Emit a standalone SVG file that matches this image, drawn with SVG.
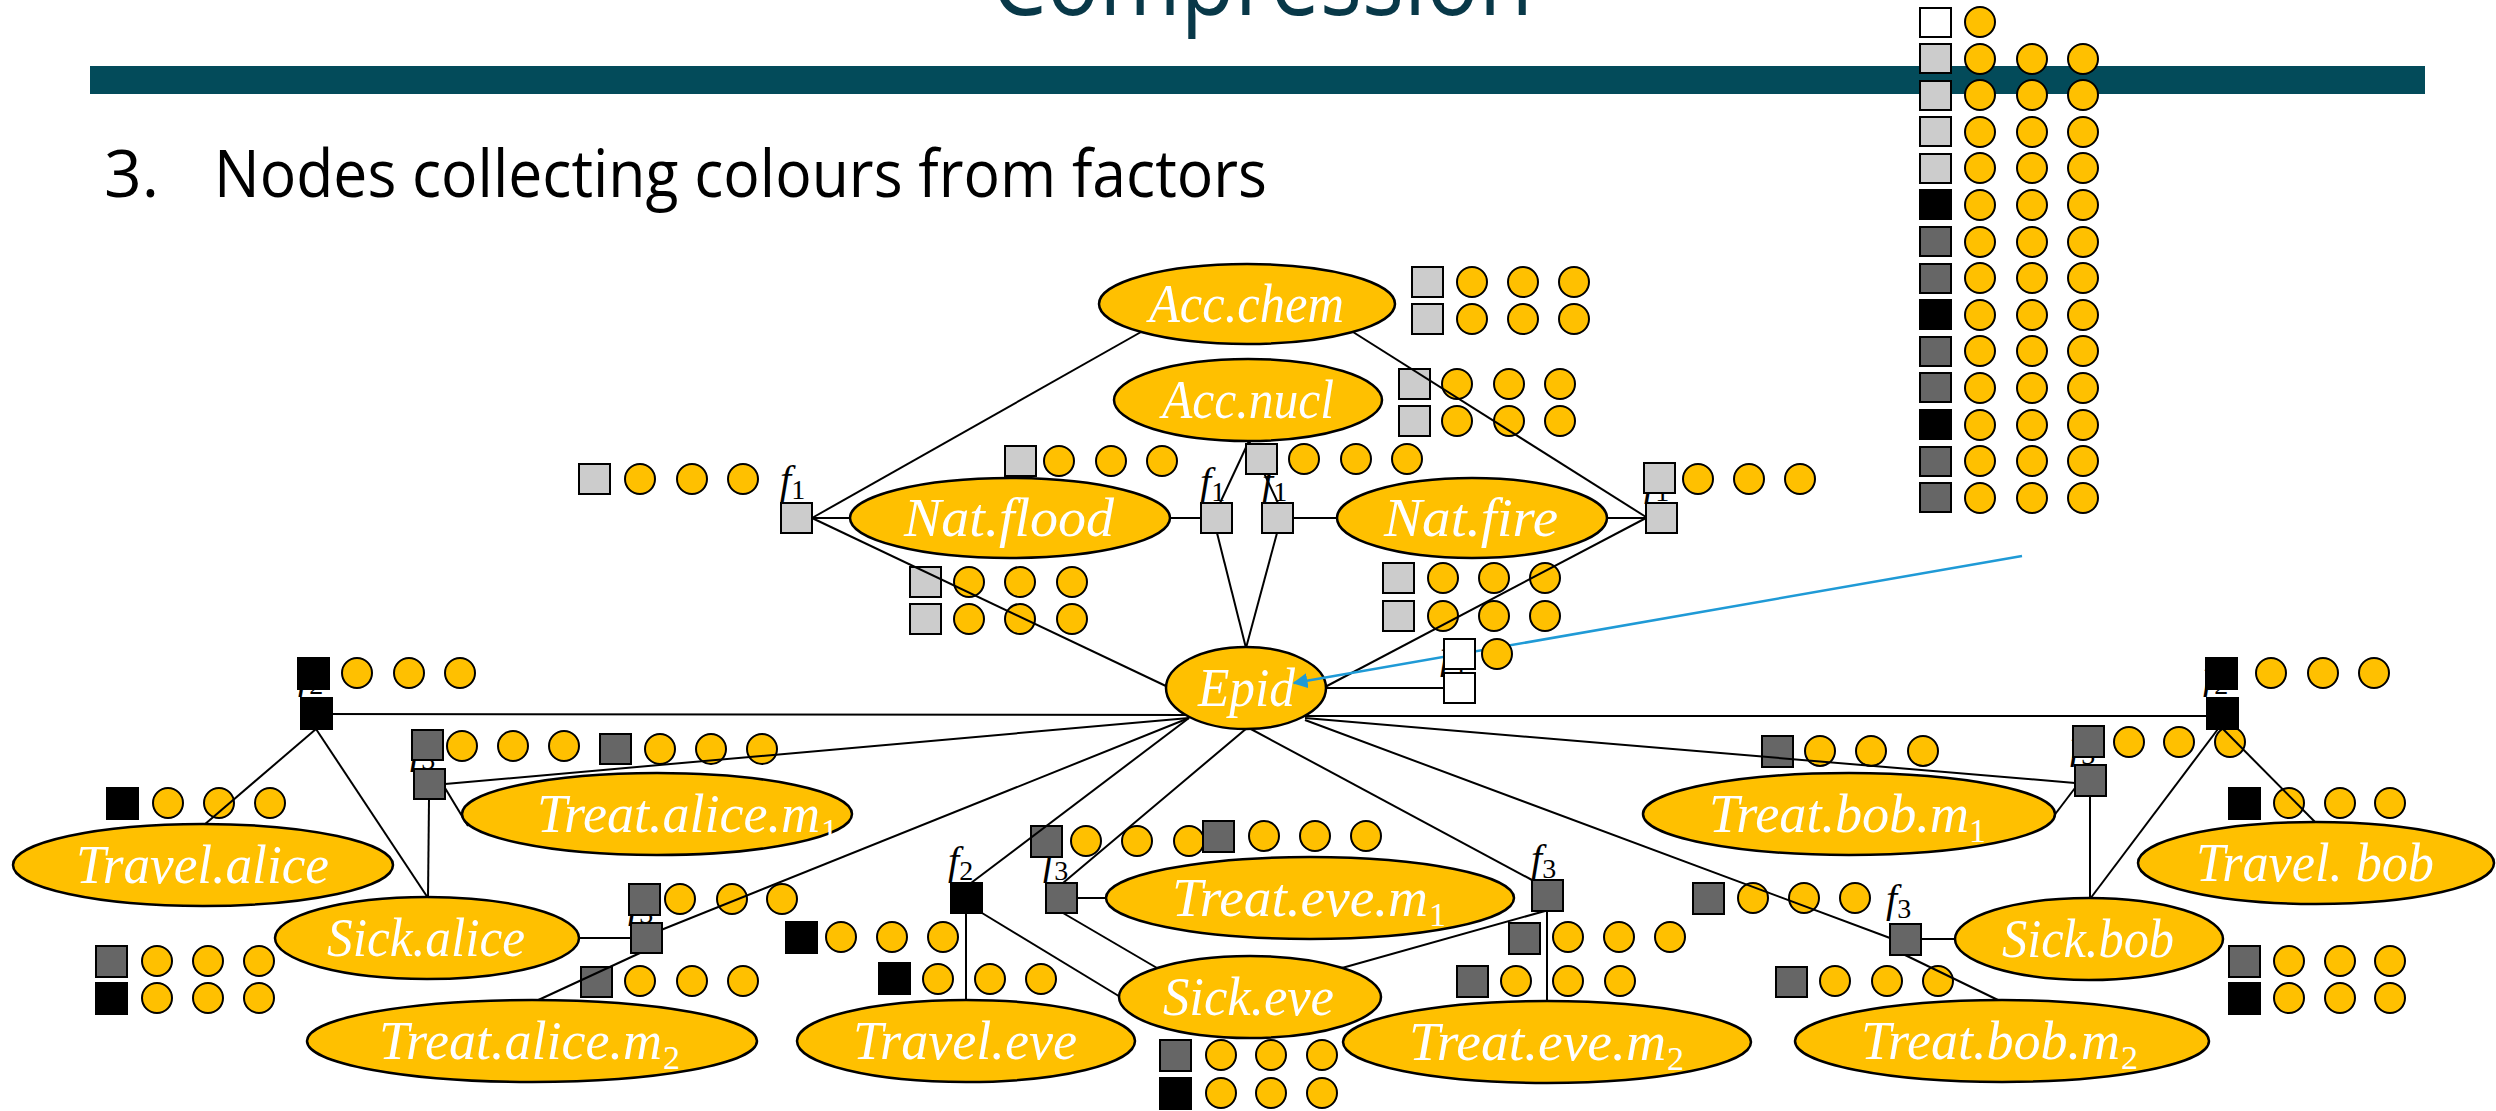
<svg xmlns="http://www.w3.org/2000/svg" width="2496" height="1111" viewBox="0 0 2496 1111">
<style>
.e{fill:#FFC000;stroke:#000;stroke-width:2.5}
.t{font-family:"Liberation Serif","DejaVu Serif",serif;font-style:italic;font-size:54px;fill:#fff}
.sub{font-style:normal;font-size:34px}
.c{fill:#FFC000;stroke:#000;stroke-width:2}
.lg{fill:#CCCCCC;stroke:#000;stroke-width:2}
.dg{fill:#666666;stroke:#000;stroke-width:2}
.bk{fill:#000;stroke:#000;stroke-width:2}
.wh{fill:#fff;stroke:#000;stroke-width:2}
.ln{stroke:#000;stroke-width:2;fill:none}
.fl{font-family:"Liberation Serif","DejaVu Serif",serif;font-style:italic;font-size:40px;fill:#000}
.fs{font-style:normal;font-size:28px}
</style>
<defs>
<marker id="ah" viewBox="0 0 10 10" refX="9" refY="5" markerWidth="6" markerHeight="6" orient="auto">
<path d="M0,0 L10,5 L0,10 z" fill="#1F9AD6"/>
</marker>
</defs>
<rect width="2496" height="1111" fill="#fff"/>
<g id="title">
<text x="991" y="15" font-family="'Open Sans','Noto Sans',sans-serif" font-size="100" fill="#083848" textLength="542" lengthAdjust="spacingAndGlyphs">Compression</text>
<rect x="90" y="66" width="2335" height="28" fill="#034B5A"/>
<text x="104" y="197" font-family="'Open Sans','Noto Sans',sans-serif" font-size="66" fill="#000">3.</text>
<text x="214" y="197" font-family="'Open Sans','Noto Sans',sans-serif" font-size="66" fill="#000" textLength="1053" lengthAdjust="spacingAndGlyphs">Nodes collecting colours from factors</text>
</g>
<g id="factor-labels">
<text class="fl" x="780" y="493">f<tspan class="fs" dy="6">1</tspan></text>
<text class="fl" x="1200" y="495">f<tspan class="fs" dy="6">1</tspan></text>
<text class="fl" x="1262" y="495">f<tspan class="fs" dy="6">1</tspan></text>
<text class="fl" x="1644" y="495">f<tspan class="fs" dy="6">1</tspan></text>
<text class="fl" x="1440" y="668">f<tspan class="fs" dy="6">4</tspan></text>
<text class="fl" x="298" y="688">f<tspan class="fs" dy="6">2</tspan></text>
<text class="fl" x="2203" y="688">f<tspan class="fs" dy="6">2</tspan></text>
<text class="fl" x="410" y="763">f<tspan class="fs" dy="6">3</tspan></text>
<text class="fl" x="628" y="917">f<tspan class="fs" dy="6">3</tspan></text>
<text class="fl" x="948" y="874">f<tspan class="fs" dy="6">2</tspan></text>
<text class="fl" x="1043" y="874">f<tspan class="fs" dy="6">3</tspan></text>
<text class="fl" x="1531" y="872">f<tspan class="fs" dy="6">3</tspan></text>
<text class="fl" x="2070" y="758">f<tspan class="fs" dy="6">3</tspan></text>
<text class="fl" x="1886" y="912">f<tspan class="fs" dy="6">3</tspan></text>
</g>
<g id="colour-column">
<rect class="wh" x="1920" y="8" width="31" height="29"/><circle class="c" cx="1980" cy="22" r="15"/>
<rect class="lg" x="1920" y="44" width="31" height="29"/><circle class="c" cx="1980" cy="59" r="15"/><circle class="c" cx="2032" cy="59" r="15"/><circle class="c" cx="2083" cy="59" r="15"/>
<rect class="lg" x="1920" y="81" width="31" height="29"/><circle class="c" cx="1980" cy="95" r="15"/><circle class="c" cx="2032" cy="95" r="15"/><circle class="c" cx="2083" cy="95" r="15"/>
<rect class="lg" x="1920" y="117" width="31" height="29"/><circle class="c" cx="1980" cy="132" r="15"/><circle class="c" cx="2032" cy="132" r="15"/><circle class="c" cx="2083" cy="132" r="15"/>
<rect class="lg" x="1920" y="154" width="31" height="29"/><circle class="c" cx="1980" cy="168" r="15"/><circle class="c" cx="2032" cy="168" r="15"/><circle class="c" cx="2083" cy="168" r="15"/>
<rect class="bk" x="1920" y="190" width="31" height="29"/><circle class="c" cx="1980" cy="205" r="15"/><circle class="c" cx="2032" cy="205" r="15"/><circle class="c" cx="2083" cy="205" r="15"/>
<rect class="dg" x="1920" y="227" width="31" height="29"/><circle class="c" cx="1980" cy="242" r="15"/><circle class="c" cx="2032" cy="242" r="15"/><circle class="c" cx="2083" cy="242" r="15"/>
<rect class="dg" x="1920" y="264" width="31" height="29"/><circle class="c" cx="1980" cy="278" r="15"/><circle class="c" cx="2032" cy="278" r="15"/><circle class="c" cx="2083" cy="278" r="15"/>
<rect class="bk" x="1920" y="300" width="31" height="29"/><circle class="c" cx="1980" cy="315" r="15"/><circle class="c" cx="2032" cy="315" r="15"/><circle class="c" cx="2083" cy="315" r="15"/>
<rect class="dg" x="1920" y="337" width="31" height="29"/><circle class="c" cx="1980" cy="351" r="15"/><circle class="c" cx="2032" cy="351" r="15"/><circle class="c" cx="2083" cy="351" r="15"/>
<rect class="dg" x="1920" y="373" width="31" height="29"/><circle class="c" cx="1980" cy="388" r="15"/><circle class="c" cx="2032" cy="388" r="15"/><circle class="c" cx="2083" cy="388" r="15"/>
<rect class="bk" x="1920" y="410" width="31" height="29"/><circle class="c" cx="1980" cy="425" r="15"/><circle class="c" cx="2032" cy="425" r="15"/><circle class="c" cx="2083" cy="425" r="15"/>
<rect class="dg" x="1920" y="447" width="31" height="29"/><circle class="c" cx="1980" cy="461" r="15"/><circle class="c" cx="2032" cy="461" r="15"/><circle class="c" cx="2083" cy="461" r="15"/>
<rect class="dg" x="1920" y="483" width="31" height="29"/><circle class="c" cx="1980" cy="498" r="15"/><circle class="c" cx="2032" cy="498" r="15"/><circle class="c" cx="2083" cy="498" r="15"/>
</g>
<g id="messages">
<rect class="lg" x="1412" y="267" width="31" height="30"/><circle class="c" cx="1472" cy="282" r="15"/><circle class="c" cx="1523" cy="282" r="15"/><circle class="c" cx="1574" cy="282" r="15"/>
<rect class="lg" x="1412" y="304" width="31" height="30"/><circle class="c" cx="1472" cy="319" r="15"/><circle class="c" cx="1523" cy="319" r="15"/><circle class="c" cx="1574" cy="319" r="15"/>
<rect class="lg" x="1399" y="369" width="31" height="30"/><circle class="c" cx="1457" cy="384" r="15"/><circle class="c" cx="1509" cy="384" r="15"/><circle class="c" cx="1560" cy="384" r="15"/>
<rect class="lg" x="1399" y="406" width="31" height="30"/><circle class="c" cx="1457" cy="421" r="15"/><circle class="c" cx="1509" cy="421" r="15"/><circle class="c" cx="1560" cy="421" r="15"/>
<rect class="lg" x="579" y="464" width="31" height="30"/><circle class="c" cx="640" cy="479" r="15"/><circle class="c" cx="692" cy="479" r="15"/><circle class="c" cx="743" cy="479" r="15"/>
<rect class="lg" x="1005" y="446" width="31" height="30"/><circle class="c" cx="1059" cy="461" r="15"/><circle class="c" cx="1111" cy="461" r="15"/><circle class="c" cx="1162" cy="461" r="15"/>
<rect class="lg" x="1644" y="463" width="31" height="30"/><circle class="c" cx="1698" cy="479" r="15"/><circle class="c" cx="1749" cy="479" r="15"/><circle class="c" cx="1800" cy="479" r="15"/>
<rect class="lg" x="910" y="567" width="31" height="30"/><circle class="c" cx="969" cy="582" r="15"/><circle class="c" cx="1020" cy="582" r="15"/><circle class="c" cx="1072" cy="582" r="15"/>
<rect class="lg" x="910" y="604" width="31" height="30"/><circle class="c" cx="969" cy="619" r="15"/><circle class="c" cx="1020" cy="619" r="15"/><circle class="c" cx="1072" cy="619" r="15"/>
<rect class="lg" x="1383" y="563" width="31" height="30"/><circle class="c" cx="1443" cy="578" r="15"/><circle class="c" cx="1494" cy="578" r="15"/><circle class="c" cx="1545" cy="578" r="15"/>
<rect class="lg" x="1383" y="601" width="31" height="30"/><circle class="c" cx="1443" cy="616" r="15"/><circle class="c" cx="1494" cy="616" r="15"/><circle class="c" cx="1545" cy="616" r="15"/>
<rect class="bk" x="298" y="658" width="31" height="31"/><circle class="c" cx="357" cy="673" r="15"/><circle class="c" cx="409" cy="673" r="15"/><circle class="c" cx="460" cy="673" r="15"/>
<rect class="bk" x="107" y="788" width="31" height="31"/><circle class="c" cx="168" cy="803" r="15"/><circle class="c" cx="219" cy="803" r="15"/><circle class="c" cx="270" cy="803" r="15"/>
<rect class="dg" x="96" y="946" width="31" height="31"/><circle class="c" cx="157" cy="961" r="15"/><circle class="c" cx="208" cy="961" r="15"/><circle class="c" cx="259" cy="961" r="15"/>
<rect class="bk" x="96" y="983" width="31" height="31"/><circle class="c" cx="157" cy="998" r="15"/><circle class="c" cx="208" cy="998" r="15"/><circle class="c" cx="259" cy="998" r="15"/>
<rect class="dg" x="412" y="730" width="31" height="30"/><circle class="c" cx="462" cy="746" r="15"/><circle class="c" cx="513" cy="746" r="15"/><circle class="c" cx="564" cy="746" r="15"/>
<rect class="dg" x="600" y="734" width="31" height="30"/><circle class="c" cx="660" cy="749" r="15"/><circle class="c" cx="711" cy="749" r="15"/><circle class="c" cx="762" cy="749" r="15"/>
<rect class="dg" x="629" y="884" width="31" height="31"/><circle class="c" cx="680" cy="899" r="15"/><circle class="c" cx="732" cy="899" r="15"/><circle class="c" cx="782" cy="899" r="15"/>
<rect class="dg" x="581" y="967" width="31" height="30"/><circle class="c" cx="640" cy="981" r="15"/><circle class="c" cx="692" cy="981" r="15"/><circle class="c" cx="743" cy="981" r="15"/>
<rect class="bk" x="786" y="922" width="31" height="31"/><circle class="c" cx="841" cy="937" r="15"/><circle class="c" cx="892" cy="937" r="15"/><circle class="c" cx="943" cy="937" r="15"/>
<rect class="bk" x="879" y="963" width="31" height="31"/><circle class="c" cx="938" cy="979" r="15"/><circle class="c" cx="990" cy="979" r="15"/><circle class="c" cx="1041" cy="979" r="15"/>
<rect class="dg" x="1031" y="826" width="31" height="31"/><circle class="c" cx="1086" cy="841" r="15"/><circle class="c" cx="1137" cy="841" r="15"/><circle class="c" cx="1189" cy="841" r="15"/>
<rect class="dg" x="1203" y="821" width="31" height="31"/><circle class="c" cx="1264" cy="836" r="15"/><circle class="c" cx="1315" cy="836" r="15"/><circle class="c" cx="1366" cy="836" r="15"/>
<rect class="dg" x="1160" y="1040" width="31" height="31"/><circle class="c" cx="1221" cy="1055" r="15"/><circle class="c" cx="1271" cy="1055" r="15"/><circle class="c" cx="1322" cy="1055" r="15"/>
<rect class="bk" x="1160" y="1078" width="31" height="31"/><circle class="c" cx="1221" cy="1093" r="15"/><circle class="c" cx="1271" cy="1093" r="15"/><circle class="c" cx="1322" cy="1093" r="15"/>
<rect class="dg" x="1509" y="923" width="31" height="31"/><circle class="c" cx="1568" cy="937" r="15"/><circle class="c" cx="1619" cy="937" r="15"/><circle class="c" cx="1670" cy="937" r="15"/>
<rect class="dg" x="1457" y="966" width="31" height="31"/><circle class="c" cx="1516" cy="981" r="15"/><circle class="c" cx="1568" cy="981" r="15"/><circle class="c" cx="1620" cy="981" r="15"/>
<rect class="dg" x="1762" y="736" width="31" height="31"/><circle class="c" cx="1820" cy="751" r="15"/><circle class="c" cx="1871" cy="751" r="15"/><circle class="c" cx="1923" cy="751" r="15"/>
<rect class="dg" x="2073" y="726" width="31" height="31"/><circle class="c" cx="2129" cy="742" r="15"/><circle class="c" cx="2179" cy="742" r="15"/><circle class="c" cx="2230" cy="742" r="15"/>
<rect class="bk" x="2206" y="658" width="31" height="31"/><circle class="c" cx="2271" cy="673" r="15"/><circle class="c" cx="2323" cy="673" r="15"/><circle class="c" cx="2374" cy="673" r="15"/>
<rect class="bk" x="2229" y="788" width="31" height="31"/><circle class="c" cx="2289" cy="803" r="15"/><circle class="c" cx="2340" cy="803" r="15"/><circle class="c" cx="2390" cy="803" r="15"/>
<rect class="dg" x="1693" y="883" width="31" height="31"/><circle class="c" cx="1753" cy="898" r="15"/><circle class="c" cx="1804" cy="898" r="15"/><circle class="c" cx="1855" cy="898" r="15"/>
<rect class="dg" x="1776" y="967" width="31" height="30"/><circle class="c" cx="1835" cy="981" r="15"/><circle class="c" cx="1887" cy="981" r="15"/><circle class="c" cx="1938" cy="981" r="15"/>
<rect class="dg" x="2229" y="946" width="31" height="31"/><circle class="c" cx="2289" cy="961" r="15"/><circle class="c" cx="2340" cy="961" r="15"/><circle class="c" cx="2390" cy="961" r="15"/>
<rect class="bk" x="2229" y="983" width="31" height="31"/><circle class="c" cx="2289" cy="998" r="15"/><circle class="c" cx="2340" cy="998" r="15"/><circle class="c" cx="2390" cy="998" r="15"/>
</g>
<g id="connectors" class="ln">
<line x1="812" y1="518" x2="1141" y2="332"/>
<line x1="812" y1="518" x2="852" y2="518"/>
<line x1="812" y1="518" x2="1168" y2="687"/>
<line x1="1169" y1="518" x2="1201" y2="518"/>
<line x1="1249" y1="441" x2="1220" y2="503"/>
<line x1="1249" y1="441" x2="1278" y2="503"/>
<line x1="1217" y1="533" x2="1246" y2="648"/>
<line x1="1277" y1="533" x2="1246" y2="648"/>
<line x1="1293" y1="518" x2="1339" y2="518"/>
<line x1="1605" y1="518" x2="1646" y2="518"/>
<line x1="1353" y1="332" x2="1646" y2="517"/>
<line x1="1646" y1="518" x2="1325" y2="687"/>
<line x1="1320" y1="688" x2="1444" y2="688"/>
<line x1="316" y1="714" x2="1190" y2="715"/>
<line x1="1302" y1="716" x2="2223" y2="716"/>
<line x1="316" y1="729" x2="204" y2="825"/>
<line x1="316" y1="729" x2="428" y2="898"/>
<line x1="445" y1="784" x2="1189" y2="718"/>
<line x1="429" y1="799" x2="428" y2="898"/>
<line x1="445" y1="788" x2="468" y2="826"/>
<line x1="577" y1="938" x2="631" y2="938"/>
<line x1="661" y1="930" x2="1189" y2="718"/>
<line x1="640" y1="953" x2="534" y2="1002"/>
<line x1="971" y1="883" x2="1189" y2="718"/>
<line x1="966" y1="913" x2="966" y2="1001"/>
<line x1="982" y1="913" x2="1122" y2="998"/>
<line x1="1063" y1="883" x2="1247" y2="728"/>
<line x1="1077" y1="898" x2="1108" y2="898"/>
<line x1="1063" y1="913" x2="1157" y2="968"/>
<line x1="1249" y1="728" x2="1532" y2="880"/>
<line x1="1547" y1="911" x2="1547" y2="1002"/>
<line x1="1545" y1="911" x2="1342" y2="968"/>
<line x1="1305" y1="718" x2="2075" y2="783"/>
<line x1="2075" y1="788" x2="2053" y2="817"/>
<line x1="2090" y1="796" x2="2090" y2="899"/>
<line x1="1305" y1="720" x2="1890" y2="938"/>
<line x1="1921" y1="939" x2="1956" y2="939"/>
<line x1="1905" y1="955" x2="2000" y2="1001"/>
<line x1="2223" y1="729" x2="2316" y2="823"/>
<line x1="2218" y1="729" x2="2090" y2="899"/>
</g>
<g id="msg-overlay">
<rect class="lg" x="1246" y="444" width="31" height="30"/><circle class="c" cx="1304" cy="459" r="15"/><circle class="c" cx="1356" cy="459" r="15"/><circle class="c" cx="1407" cy="459" r="15"/>
</g>
<g id="n-acc-chem"><ellipse class="e" cx="1247" cy="304" rx="148" ry="40"/><text class="t" x="1149" y="322" textLength="195" lengthAdjust="spacingAndGlyphs">Acc.chem</text></g>
<g id="n-acc-nucl"><ellipse class="e" cx="1248" cy="400" rx="134" ry="41"/><text class="t" x="1162" y="418" textLength="172" lengthAdjust="spacingAndGlyphs">Acc.nucl</text></g>
<g id="n-nat-flood"><ellipse class="e" cx="1010" cy="518" rx="160" ry="40"/><text class="t" x="904" y="536" textLength="210" lengthAdjust="spacingAndGlyphs">Nat.flood</text></g>
<g id="n-nat-fire"><ellipse class="e" cx="1472" cy="518" rx="135" ry="40"/><text class="t" x="1384" y="536" textLength="174" lengthAdjust="spacingAndGlyphs">Nat.fire</text></g>
<g id="n-epid"><ellipse class="e" cx="1246" cy="688" rx="80" ry="41"/><text class="t" x="1198" y="706" textLength="97" lengthAdjust="spacingAndGlyphs">Epid</text></g>
<g id="n-travel-alice"><ellipse class="e" cx="203" cy="865" rx="190" ry="41"/><text class="t" x="76" y="883" textLength="253" lengthAdjust="spacingAndGlyphs">Travel.alice</text></g>
<g id="n-treat-alice-m1"><ellipse class="e" cx="657" cy="814" rx="195" ry="41"/><text class="t" x="537" y="832"><tspan textLength="283" lengthAdjust="spacingAndGlyphs">Treat.alice.m</tspan><tspan class="sub" x="821" y="842">1</tspan></text></g>
<g id="n-sick-alice"><ellipse class="e" cx="427" cy="938" rx="152" ry="41"/><text class="t" x="327" y="956" textLength="198" lengthAdjust="spacingAndGlyphs">Sick.alice</text></g>
<g id="n-treat-alice-m2"><ellipse class="e" cx="532" cy="1041" rx="225" ry="41"/><text class="t" x="379" y="1059"><tspan textLength="283" lengthAdjust="spacingAndGlyphs">Treat.alice.m</tspan><tspan class="sub" x="663" y="1069">2</tspan></text></g>
<g id="n-travel-eve"><ellipse class="e" cx="966" cy="1041" rx="169" ry="41"/><text class="t" x="853" y="1059" textLength="224" lengthAdjust="spacingAndGlyphs">Travel.eve</text></g>
<g id="n-treat-eve-m1"><ellipse class="e" cx="1310" cy="898" rx="204" ry="41"/><text class="t" x="1172" y="916"><tspan textLength="256" lengthAdjust="spacingAndGlyphs">Treat.eve.m</tspan><tspan class="sub" x="1429" y="926">1</tspan></text></g>
<g id="n-sick-eve"><ellipse class="e" cx="1250" cy="997" rx="131" ry="41"/><text class="t" x="1163" y="1015" textLength="171" lengthAdjust="spacingAndGlyphs">Sick.eve</text></g>
<g id="n-treat-eve-m2"><ellipse class="e" cx="1547" cy="1042" rx="204" ry="41"/><text class="t" x="1409" y="1060"><tspan textLength="257" lengthAdjust="spacingAndGlyphs">Treat.eve.m</tspan><tspan class="sub" x="1667" y="1070">2</tspan></text></g>
<g id="n-treat-bob-m1"><ellipse class="e" cx="1849" cy="814" rx="206" ry="41"/><text class="t" x="1709" y="832"><tspan textLength="260" lengthAdjust="spacingAndGlyphs">Treat.bob.m</tspan><tspan class="sub" x="1969" y="842">1</tspan></text></g>
<g id="n-travel-bob"><ellipse class="e" cx="2316" cy="863" rx="178" ry="41"/><text class="t" x="2196" y="881" textLength="238" lengthAdjust="spacingAndGlyphs">Travel. bob</text></g>
<g id="n-sick-bob"><ellipse class="e" cx="2089" cy="939" rx="134" ry="41"/><text class="t" x="2002" y="957" textLength="172" lengthAdjust="spacingAndGlyphs">Sick.bob</text></g>
<g id="n-treat-bob-m2"><ellipse class="e" cx="2002" cy="1041" rx="207" ry="41"/><text class="t" x="1861" y="1059"><tspan textLength="259" lengthAdjust="spacingAndGlyphs">Treat.bob.m</tspan><tspan class="sub" x="2121" y="1069">2</tspan></text></g>
<g id="blue-arrow">
<line x1="2022" y1="556" x2="1294" y2="683" stroke="#1F9AD6" stroke-width="2.5" marker-end="url(#ah)"/>
</g>
<g id="msg-epid">
<rect class="wh" x="1444" y="639" width="31" height="30"/><circle class="c" cx="1497" cy="654" r="15"/>
</g>
<g id="factors">
<rect id="f-nat-flood" class="lg" x="781" y="503" width="31" height="30"/>
<rect id="f-flood-nucl" class="lg" x="1201" y="503" width="31" height="30"/>
<rect id="f-nucl-fire" class="lg" x="1262" y="503" width="31" height="30"/>
<rect id="f-fire-chem" class="lg" x="1646" y="503" width="31" height="30"/>
<rect id="f-epid" class="wh" x="1444" y="673" width="31" height="30"/>
<rect id="f-travel-alice" class="bk" x="301" y="698" width="31" height="31"/>
<rect id="f-travel-bob" class="bk" x="2207" y="698" width="31" height="31"/>
<rect id="f-treat-alice-m1" class="dg" x="414" y="769" width="31" height="30"/>
<rect id="f-treat-alice-m2" class="dg" x="631" y="923" width="31" height="30"/>
<rect id="f-travel-eve" class="bk" x="951" y="883" width="31" height="30"/>
<rect id="f-treat-eve-m1" class="dg" x="1046" y="883" width="31" height="30"/>
<rect id="f-treat-eve-m2" class="dg" x="1532" y="880" width="31" height="31"/>
<rect id="f-treat-bob-m1" class="dg" x="2075" y="765" width="31" height="31"/>
<rect id="f-treat-bob-m2" class="dg" x="1890" y="924" width="31" height="31"/>
</g>
</svg>
